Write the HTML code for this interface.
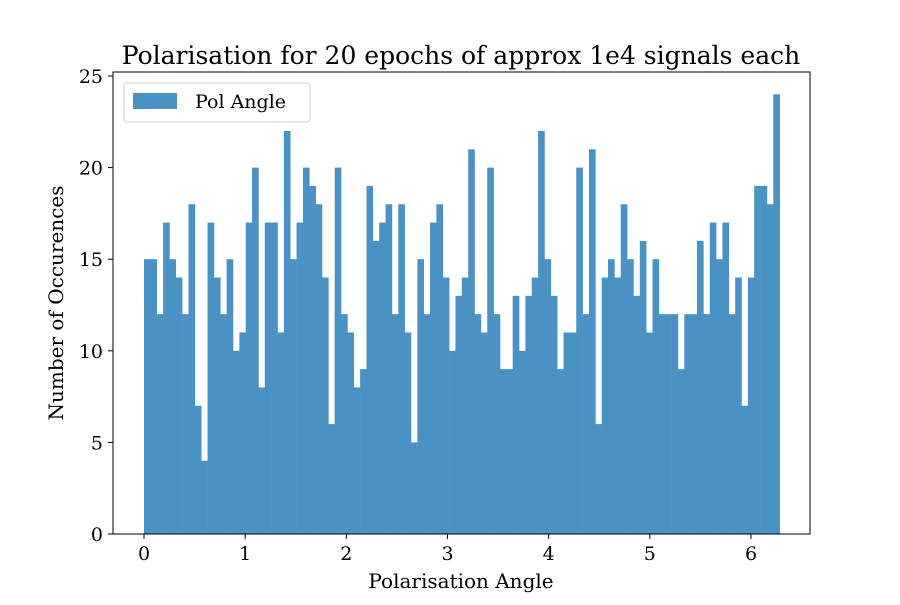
<!DOCTYPE html>
<html><head><meta charset="utf-8"><style>
body{margin:0;background:#fff;}
text{font-family:"DejaVu Serif","Liberation Serif",serif;fill:#000;}
</style></head><body>
<svg id="chart" width="900" height="600" xmlns="http://www.w3.org/2000/svg">
<text x="461" y="64" font-size="25" text-anchor="middle">Polarisation for 20 epochs of approx 1e4 signals each</text>
<g id="bars"></g>
<rect x="113" y="72" width="697" height="462" fill="none" stroke="#000" stroke-width="1"/>
<g id="xticks"></g>
<g id="yticks"></g>
<text x="461" y="588" font-size="20" text-anchor="middle">Polarisation Angle</text>
<text transform="translate(63,303) rotate(-90)" font-size="20" text-anchor="middle">Number of Occurences</text>
<g>
<rect x="124" y="83" width="186" height="39" rx="3" fill="#fff" fill-opacity="0.8" stroke="#ccc"/>
<rect x="133" y="93" width="44" height="16" fill="#4b92c4"/>
<text x="195" y="108" font-size="19">Pol Angle</text>
</g>
</svg>
<script>
const counts=[15,15,12,17,15,14,12,18,7,4,17,14,12,15,10,11,17,20,8,17,17,11,22,15,17,20,19,18,14,6,20,12,11,8,9,19,16,17,18,12,18,11,5,15,12,17,18,14,10,13,14,21,12,11,20,12,9,9,13,10,13,14,22,15,13,9,11,11,20,12,21,6,14,15,14,18,15,13,16,11,15,12,12,12,9,12,12,16,12,17,15,17,12,14,7,14,19,19,18,24];
const binMin=0, binMax=2*Math.PI;
const xTickLabels=[0,1,2,3,4,5,6];
const yTickLabels=[0,5,10,15,20,25];
const NS="http://www.w3.org/2000/svg";
const xs=v=>144+(v-0)*(751-144)/6;
const ys=v=>534-v*(534-76)/25;
const bars=document.getElementById('bars');
const w=(binMax-binMin)/counts.length;
counts.forEach((c,i)=>{
  const r=document.createElementNS(NS,'rect');
  const x0=xs(binMin+i*w), x1=xs(binMin+(i+1)*w);
  r.setAttribute('x',x0);r.setAttribute('width',x1-x0+0.3);
  r.setAttribute('y',ys(c));r.setAttribute('height',ys(0)-ys(c));
  r.setAttribute('fill','#4b92c4');
  
  
  bars.appendChild(r);
});
const xt=document.getElementById('xticks');
xTickLabels.forEach(v=>{
  const l=document.createElementNS(NS,'line');
  l.setAttribute('x1',xs(v));l.setAttribute('x2',xs(v));l.setAttribute('y1',534);l.setAttribute('y2',539);l.setAttribute('stroke','#000');
  
  
  xt.appendChild(l);
  const t=document.createElementNS(NS,'text');
  t.setAttribute('x',xs(v));t.setAttribute('y',560);t.setAttribute('font-size','19');t.setAttribute('text-anchor','middle');
  t.textContent=v;
  
  
  xt.appendChild(t);
});
const yt=document.getElementById('yticks');
yTickLabels.forEach(v=>{
  const l=document.createElementNS(NS,'line');
  l.setAttribute('x1',108);l.setAttribute('x2',113);l.setAttribute('y1',ys(v));l.setAttribute('y2',ys(v));l.setAttribute('stroke','#000');
  
  
  yt.appendChild(l);
  const t=document.createElementNS(NS,'text');
  t.setAttribute('x',103);t.setAttribute('y',ys(v)+7);t.setAttribute('font-size','19');t.setAttribute('text-anchor','end');
  t.textContent=v;
  
  
  yt.appendChild(t);
});
</script>
</body></html>
